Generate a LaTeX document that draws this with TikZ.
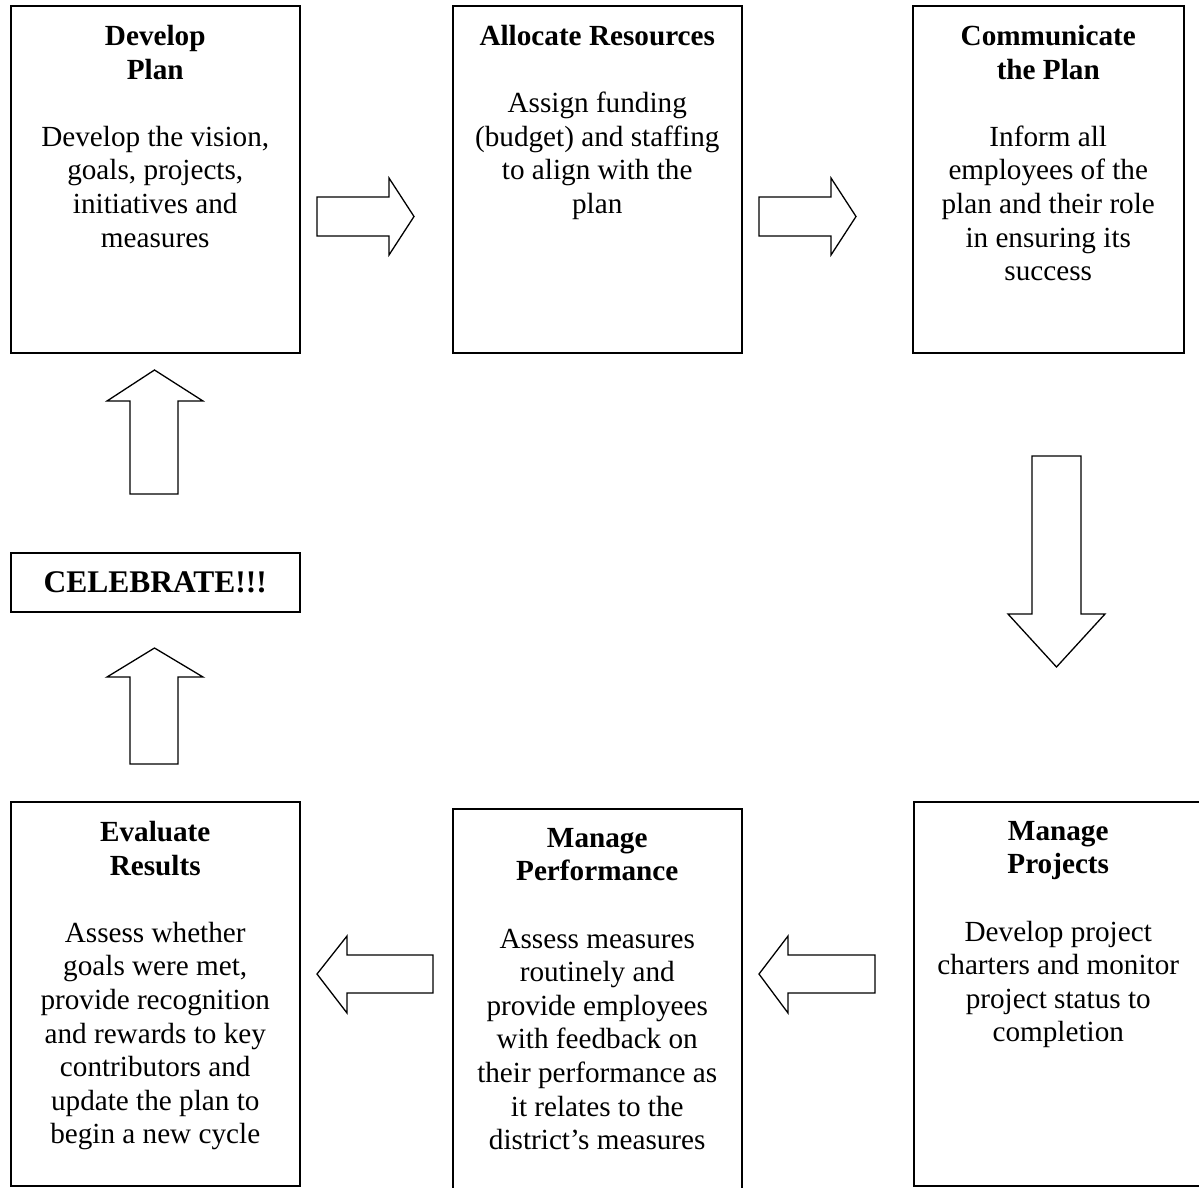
\documentclass[tikz,border=0pt]{standalone}
\usepackage{fontspec}
\setmainfont{Liberation Serif}
\begin{document}
\begin{tikzpicture}[x=1pt,y=-1pt,
  box/.style={draw, line width=1.5pt, rectangle, inner sep=0pt, anchor=north west},
  txt/.style={align=center, inner sep=0pt, anchor=north, font=\fontsize{29.2}{33.6}\selectfont},
  blockarrow/.style={draw, line width=1.3pt, line join=miter, fill=white}]
\useasboundingbox (0,0) rectangle (1199,1187);
\clip (0,0) rectangle (1199,1187);
% top row boxes
\node[box, minimum width=289pt, minimum height=347pt] (b1) at (10,5) {};
\node[box, minimum width=289pt, minimum height=347pt] (b2) at (452,5) {};
\node[box, minimum width=271pt, minimum height=347pt] (b3) at (912,5) {};
% bottom row boxes
\node[box, minimum width=289pt, minimum height=384pt] (b4) at (913,801) {};
\node[box, minimum width=289pt, minimum height=395pt] (b5) at (452,808) {};
\node[box, minimum width=289pt, minimum height=384pt] (b6) at (10,801) {};
% celebrate box
\node[box, minimum width=289pt, minimum height=59pt] (cb) at (10,552) {};
% texts
\node[txt] (t1) at ([yshift=-20pt]b1.north) {\textbf{Develop}\\\textbf{Plan}\\[33.6pt]Develop the vision,\\goals, projects,\\initiatives and\\measures};
\node[txt] (t2) at ([yshift=-20pt]b2.north) {\textbf{Allocate Resources}\\[33.6pt]Assign funding\\(budget) and staffing\\to align with the\\plan};
\node[txt] (t3) at ([yshift=-20pt]b3.north) {\textbf{Communicate}\\\textbf{the Plan}\\[33.6pt]Inform all\\employees of the\\plan and their role\\in ensuring its\\success};
\node[txt] (t4) at ([yshift=-20pt]b4.north) {\textbf{Manage}\\\textbf{Projects}\\[33.6pt]Develop project\\charters and monitor\\project status to\\completion};
\node[txt] (t5) at ([yshift=-20pt]b5.north) {\textbf{Manage}\\\textbf{Performance}\\[33.6pt]Assess measures\\routinely and\\provide employees\\with feedback on\\their performance as\\it relates to the\\district’s measures};
\node[txt] (t6) at ([yshift=-20pt]b6.north) {\textbf{Evaluate}\\\textbf{Results}\\[33.6pt]Assess whether\\goals were met,\\provide recognition\\and rewards to key\\contributors and\\update the plan to\\begin a new cycle};
\node[inner sep=0pt, font=\fontsize{31.5}{36}\selectfont\bfseries] (ct) at (cb.center) {CELEBRATE!!!};
% block arrows
\draw[blockarrow] (317,197) -- (389,197) -- (389,178) -- (414,216.5) -- (389,255) -- (389,236) -- (317,236) -- cycle;
\draw[blockarrow] (759,197) -- (831,197) -- (831,178) -- (856,216.5) -- (831,255) -- (831,236) -- (759,236) -- cycle;
\draw[blockarrow] (1032,456) -- (1081,456) -- (1081,614) -- (1105,614) -- (1056.5,667) -- (1008,614) -- (1032,614) -- cycle;
\draw[blockarrow] (875,955) -- (788,955) -- (788,936) -- (759,974) -- (788,1013) -- (788,993) -- (875,993) -- cycle;
\draw[blockarrow] (433,955) -- (347,955) -- (347,936) -- (317,974) -- (347,1013) -- (347,993) -- (433,993) -- cycle;
\draw[blockarrow] (130,764) -- (130,677) -- (107,677) -- (154.5,648) -- (203,677) -- (178,677) -- (178,764) -- cycle;
\draw[blockarrow] (130,494) -- (130,401) -- (107,401) -- (154.5,370) -- (203,401) -- (178,401) -- (178,494) -- cycle;
\end{tikzpicture}
\end{document}
